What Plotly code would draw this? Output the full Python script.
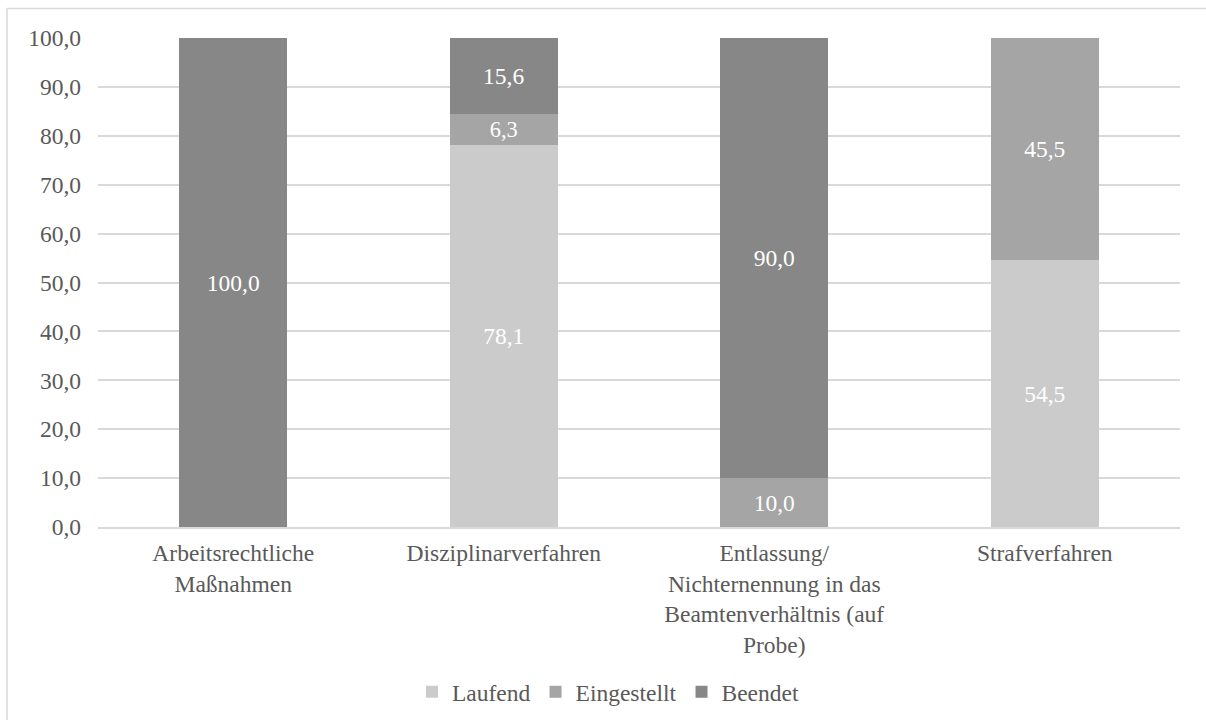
import plotly.graph_objects as go

categories = [
    "Arbeitsrechtliche<br>Maßnahmen",
    "Disziplinarverfahren",
    "Entlassung/<br>Nichternennung in das<br>Beamtenverhältnis (auf<br>Probe)",
    "Strafverfahren",
]
laufend = [0.0, 78.1, 0.0, 54.5]
eingestellt = [0.0, 6.3, 10.0, 45.5]
beendet = [100.0, 15.6, 90.0, 0.0]

series = [
    ("Laufend", laufend, "#cbcbcb"),
    ("Eingestellt", eingestellt, "#a5a5a5"),
    ("Beendet", beendet, "#878787"),
]

FONT = "Liberation Serif"
FS = 23.5
TEXT_COLOR = "#595959"

W, H = 1206, 720
ML, MR, MT, MB = 98, 26, 38, 193

fig = go.Figure()
for name, vals, color in series:
    labels = [f"{v:.1f}".replace(".", ",") if v > 0 else "" for v in vals]
    fig.add_trace(go.Bar(
        name=name,
        x=categories,
        y=vals,
        marker=dict(color=color, line=dict(width=0)),
        text=labels,
        textposition="inside",
        insidetextanchor="middle",
        textangle=0,
        textfont=dict(family=FONT, size=FS, color="white"),
        width=0.4,
    ))

pw = W - ML - MR
ph = H - MT - MB

# outer frame of the chart area: top and left edges
frame = dict(color="#d9d9d9", width=1.5)
left_x = (7 - ML) / pw
top_y = (H - MB - 8.5) / ph
fig.add_shape(type="line", xref="paper", yref="paper",
              x0=left_x, x1=(W - ML) / pw, y0=top_y, y1=top_y,
              line=frame, layer="below")
fig.add_shape(type="line", xref="paper", yref="paper",
              x0=left_x, x1=left_x, y0=top_y, y1=-MB / ph,
              line=frame, layer="below")

fig.update_layout(
    width=W, height=H,
    barmode="stack",
    separators=",.",
    paper_bgcolor="white",
    plot_bgcolor="white",
    margin=dict(l=ML, r=MR, t=MT, b=MB, autoexpand=False),
    font=dict(family=FONT, size=FS, color=TEXT_COLOR),
    showlegend=True,
    legend=dict(
        orientation="h",
        x=(608 - ML) / pw, xanchor="center",
        y=-(692 - (H - MB)) / ph, yanchor="middle",
        traceorder="normal",
        itemwidth=30,
        font=dict(family=FONT, size=FS, color=TEXT_COLOR),
        bgcolor="rgba(0,0,0,0)",
    ),
    xaxis=dict(
        showgrid=False,
        showline=True,
        linecolor="#d9d9d9",
        linewidth=1.5,
        ticks="",
        automargin=False,
        ticklabelstandoff=4,
        tickfont=dict(family=FONT, size=FS, color=TEXT_COLOR),
        fixedrange=True,
    ),
    yaxis=dict(
        range=[0, 100],
        tick0=0, dtick=10,
        tickformat=".1f",
        showgrid=True,
        gridcolor="#d9d9d9",
        gridwidth=1.5,
        zeroline=False,
        showline=False,
        ticks="",
        automargin=False,
        ticklabelstandoff=16,
        tickfont=dict(family=FONT, size=FS, color=TEXT_COLOR),
        fixedrange=True,
    ),
)

fig.write_html("out.html")
